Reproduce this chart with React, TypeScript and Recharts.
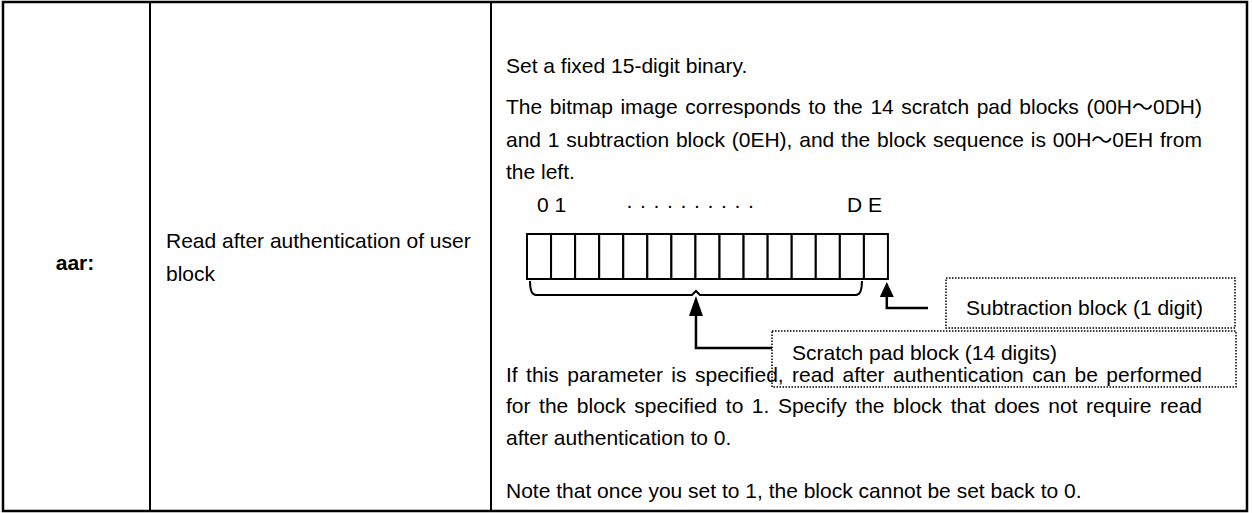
import { useLayoutEffect, useRef, useState } from 'react';
import { Bar, BarChart, XAxis, YAxis } from 'recharts';

// 15 bits of the aar bitmap: 00H..0DH scratch pad, 0EH subtraction
const blockIds = ['00', '01', '02', '03', '04', '05', '06', '07', '08', '09', '0A', '0B', '0C', '0D', '0E'];
const blockBits = [1, 1, 1, 1, 1, 1, 1, 1, 1, 1, 1, 1, 1, 1, 1];

const paramName = 'aar:';
const paramTitle = ['Read after authentication of user', 'block'];
const introLine = 'Set a fixed 15-digit binary.';
const bitmapText = [
    'The bitmap image corresponds to the 14 scratch pad blocks (00H\uFF5E0DH)',
    'and 1 subtraction block (0EH), and the block sequence is 00H\uFF5E0EH from',
    'the left.',
];
const specText = [
    'If this parameter is specified, read after authentication can be performed',
    'for the block specified to 1. Specify the block that does not require read',
    'after authentication to 0.',
];
const noteLine = 'Note that once you set to 1, the block cannot be set back to 0.';
const headLeft = '0 1';
const headDots = '··········';
const headRight = 'D E';
const scratchLabel = 'Scratch pad block (14 digits)';
const subtractLabel = 'Subtraction block (1 digit)';

const W = 1253;
const H = 513;
const FONT = '"Liberation Sans", Arial, "Noto Sans CJK JP", sans-serif';
const FS = 21;

// box row geometry
const rowLeft = 527;
const rowRight = 888;
const rowTop = 234;
const rowBottom = 279;

const textX = 506;
const textW = 696;

const data = blockIds.map((id, i) => ({ id, bit: blockBits[i] }));

// justified line: stretch word spacing to fill the column
function JLine({ x, y, width, text }: { x: number; y: number; width: number; text: string }) {
    const ref = useRef<SVGTextElement>(null);
    const [ws, setWs] = useState(0);
    useLayoutEffect(() => {
        const el = ref.current;
        if (!el) return;
        const natural = el.getComputedTextLength();
        const gaps = text.split(' ').length - 1;
        if (gaps > 0) setWs((width - natural) / gaps);
    }, [text, width]);
    return (
        <text ref={ref} x={x} y={y} style={{ wordSpacing: ws }}>
            {text}
        </text>
    );
}

function Frame() {
    return (
        <svg width={W} height={H} style={{ position: 'absolute', left: 0, top: 0 }}>
            <rect x={3} y={2} width={1244} height={509} fill="#fff" stroke="#000" strokeWidth={2.5} />
            <line x1={150} y1={2} x2={150} y2={511} stroke="#000" strokeWidth={2} />
            <line x1={491} y1={2} x2={491} y2={511} stroke="#000" strokeWidth={2} />

            <g fontFamily={FONT} fontSize={FS} fill="#000">
                <text x={75} y={270} textAnchor="middle" fontWeight="bold">{paramName}</text>
                <text x={166} y={248}>{paramTitle[0]}</text>
                <text x={166} y={281}>{paramTitle[1]}</text>

                <text x={textX} y={73}>{introLine}</text>
                <JLine x={textX} y={114} width={textW} text={bitmapText[0]} />
                <JLine x={textX} y={147} width={textW} text={bitmapText[1]} />
                <text x={textX} y={179}>{bitmapText[2]}</text>

                <text x={537} y={212}>{headLeft}</text>
                <text x={626} y={212} letterSpacing={6.5}>{headDots}</text>
                <text x={847} y={212}>{headRight}</text>

                <JLine x={textX} y={382} width={textW} text={specText[0]} />
                <JLine x={textX} y={413} width={textW} text={specText[1]} />
                <text x={textX} y={445}>{specText[2]}</text>
                <text x={textX} y={498}>{noteLine}</text>
            </g>
        </svg>
    );
}

function Callouts() {
    const cell = (rowRight - rowLeft) / blockIds.length;
    const braceL = rowLeft + 3;
    const braceR = rowLeft + cell * 14 - 2;
    const braceMid = (braceL + braceR) / 2;
    const braceY = 295;
    const subX = rowLeft + cell * 14.95;
    return (
        <svg width={W} height={H} style={{ position: 'absolute', left: 0, top: 0 }}>
            {/* brace under the 14 scratch pad cells */}
            <path
                d={`M${braceL},${rowBottom + 2} Q${braceL},${braceY} ${braceL + 6},${braceY} L${braceMid - 4},${braceY} L${braceMid},${braceY - 4} L${braceMid + 4},${braceY} L${braceR - 6},${braceY} Q${braceR},${braceY} ${braceR},${rowBottom + 2}`}
                fill="none"
                stroke="#000"
                strokeWidth={2}
            />
            <path d={`M${braceMid - 7},316 L${braceMid},296 L${braceMid + 7},316 Z`} fill="#000" />
            <path d={`M${braceMid},316 L${braceMid},348 L772,348`} fill="none" stroke="#000" strokeWidth={2.5} />

            <path d={`M${subX - 7},297 L${subX},282 L${subX + 7},297 Z`} fill="#000" />
            <path d={`M${subX},297 L${subX},308 L928,308`} fill="none" stroke="#000" strokeWidth={2.5} />

            <rect x={946} y={278} width={289} height={50} fill="#fff" stroke="#000" strokeWidth={1.5} strokeDasharray="1.5 1.5" />
            <rect x={772} y={331} width={464} height={56} fill="none" stroke="#000" strokeWidth={1.5} strokeDasharray="1.5 1.5" />
            <g fontFamily={FONT} fontSize={FS} fill="#000">
                <text x={966} y={315}>{subtractLabel}</text>
                <text x={792} y={360}>{scratchLabel}</text>
            </g>
        </svg>
    );
}

export default function App() {
    return (
        <div style={{ position: 'absolute', left: 0, top: 0, width: W, height: H }}>
            <Frame />
            <div style={{ position: 'absolute', left: 0, top: 0 }}>
                <BarChart
                    width={W}
                    height={H}
                    data={data}
                    margin={{ left: rowLeft, right: W - rowRight, top: rowTop, bottom: H - rowBottom }}
                    barCategoryGap={0}
                    barGap={0}
                >
                    <XAxis dataKey="id" hide />
                    <YAxis hide domain={[0, 1]} />
                    <Bar dataKey="bit" fill="#fff" stroke="#000" strokeWidth={2} isAnimationActive={false} />
                </BarChart>
            </div>
            <Callouts />
        </div>
    );
}
